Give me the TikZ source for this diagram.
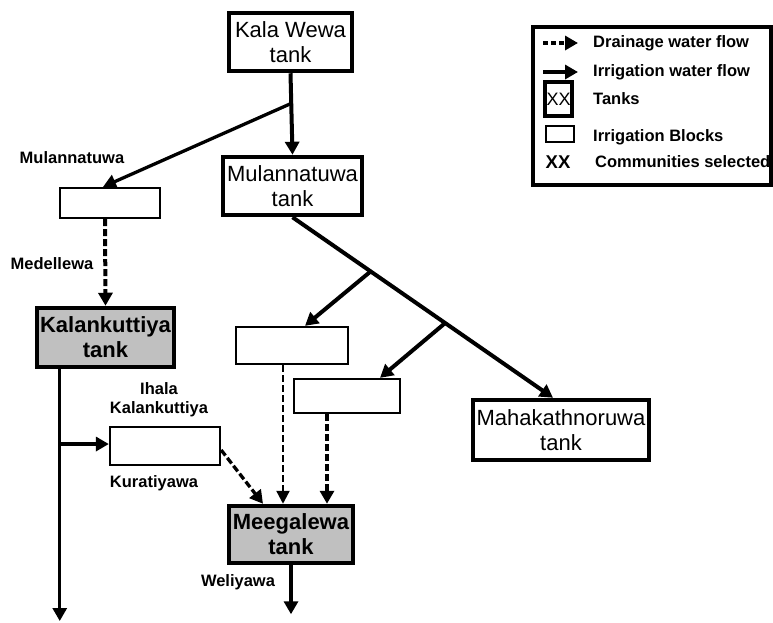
\documentclass[tikz,border=0pt]{standalone}
\usepackage{fontspec}
\setmainfont{Liberation Sans}
\usetikzlibrary{positioning, calc, arrows.meta}
\definecolor{tankgray}{RGB}{192,192,192}

\tikzset{
  tank/.style={draw, line width=4.5pt, inner sep=0pt, align=center,
               font=\fontsize{22}{25}\selectfont},
  selected/.style={tank, fill=tankgray, font=\fontsize{22}{25}\selectfont\bfseries},
  block/.style={draw, line width=2.3pt, inner sep=0pt},
  lbl/.style={font=\fontsize{16.5}{19}\selectfont\bfseries, align=center, inner sep=0pt},
  irrig/.style={line width=4pt, -{Triangle[length=13pt,width=14pt]}},
  thinirrig/.style={line width=3pt, -{Triangle[length=13pt,width=14pt]}},
  drain/.style={line width=4pt, dash pattern=on 7pt off 3pt, -{Triangle[length=13pt,width=14pt]}},
  thindrain/.style={line width=2.3pt, dash pattern=on 7pt off 3pt, -{Triangle[length=13pt,width=13pt]}}
}

\begin{document}
\begin{tikzpicture}[x=1pt, y=-1pt]
  \useasboundingbox (0,0) rectangle (773,622);

  % tanks
  \node[tank, minimum width=123pt, minimum height=58pt] (kala) at (290.5,42) {Kala Wewa\\tank};
  \node[tank, minimum width=139pt, minimum height=58pt] (mula) at (292.5,186) {Mulannatuwa\\tank};
  \node[selected, minimum width=137pt, minimum height=59pt] (kalan) at (105.5,337.5) {Kalankuttiya\\tank};
  \node[tank, minimum width=176pt, minimum height=60pt] (maha) at (561,430) {Mahakathnoruwa\\tank};
  \node[selected, minimum width=124pt, minimum height=57pt] (meeg) at (291,534.5) {Meegalewa\\tank};

  % irrigation blocks
  \node[block, minimum width=100pt, minimum height=30pt] (bmula) at (110,203) {};
  \node[block, minimum width=112pt, minimum height=37pt] (bleft) at (292,345.5) {};
  \node[block, minimum width=106pt, minimum height=34pt] (bright) at (347,396) {};
  \node[block, minimum width=110pt, minimum height=38pt] (bihala) at (165,446) {};

  % communities
  \node[lbl] (cmula) at (72,158) {Mulannatuwa};
  \node[lbl] (cmede) at (52,264) {Medellewa};
  \node[lbl] (cihala) at (159,400) {Ihala\\Kalankuttiya};
  \node[lbl] (ckura) at (154,483) {Kuratiyawa};
  \node[lbl] (cweli) at (238,582) {Weliyawa};

  % irrigation flow
  \draw[irrig] (kala.south) -- (mula.north) coordinate[pos=0.37] (j1);
  \draw[thinirrig, line width=3.3pt] (j1) -- ([xshift=-7pt]bmula.north);
  \draw[irrig] (mula.south) -- ([xshift=-8pt]maha.north)
    coordinate[pos=0.3] (j2) coordinate[pos=0.586] (j3);
  \draw[irrig] (j2) -- ([xshift=13pt]bleft.north);
  \draw[irrig] (j3) -- ([xshift=33pt]bright.north);
  \coordinate (kout) at ([xshift=25pt]kalan.south west |- 0,621);
  \draw[thinirrig] ([xshift=25pt]kalan.south west) -- (kout)
    coordinate[pos=0.297] (j4);
  \draw[thinirrig, line width=3.5pt] (j4) -- (j4 -| bihala.west);
  \coordinate (mout) at ([yshift=-49pt]meeg.south);
  \draw[irrig] (meeg.south) -- (mout);

  % drainage flow
  \draw[drain] ([xshift=-5pt]bmula.south) -- (kalan.north);
  \draw[drain, line width=3.3pt] ([yshift=-4pt]bihala.east) -- ([xshift=-28pt]meeg.north);
  \draw[thindrain] ([xshift=-9pt]bleft.south) -- ([xshift=-8pt]meeg.north);
  \draw[drain, line width=4.5pt] ([xshift=-20pt]bright.south) -- ([xshift=36pt]meeg.north);

  % legend
  \node[draw, line width=4.5pt, minimum width=238pt, minimum height=158pt, inner sep=0pt] (legend) at (652,106) {};
  \coordinate (ld1) at (543,43);
  \coordinate (ld2) at (578,43);
  \draw[drain, line width=3.5pt, dash pattern=on 5pt off 3pt] (ld1) -- (ld2);
  \node[lbl, anchor=west] (tdrain) at (593,43) {Drainage water flow};
  \coordinate (li1) at (543,72);
  \coordinate (li2) at (578,72);
  \draw[irrig] (li1) -- (li2);
  \node[lbl, anchor=west] (tirrig) at (593,72) {Irrigation water flow};
  \node[draw, line width=4.5pt, minimum width=27pt, minimum height=34pt, inner sep=0pt,
        font=\fontsize{18}{18}\selectfont] (ltank) at (558.5,99) {XX};
  \node[lbl, anchor=west] (ttank) at (593,99) {Tanks};
  \node[block, minimum width=28pt, minimum height=16pt] (lblock) at (560,134) {};
  \node[lbl, anchor=west] (tblock) at (593,137) {Irrigation Blocks};
  \node[lbl, font=\fontsize{18.5}{19}\selectfont\bfseries] (lcomm) at (558,162) {XX};
  \node[lbl, anchor=west] (tcomm) at (595,162) {Communities selected};
\end{tikzpicture}
\end{document}
